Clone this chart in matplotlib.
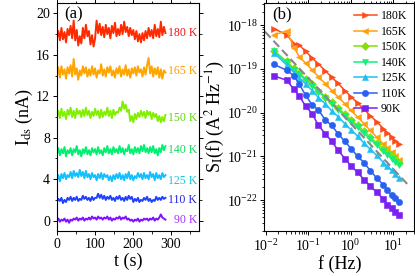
import numpy as np
import matplotlib
matplotlib.use("Agg")
import matplotlib.pyplot as plt
from matplotlib.ticker import MultipleLocator, LogLocator, NullFormatter

plt.rcParams['font.family'] = ['Liberation Serif', 'DejaVu Serif']
plt.rcParams['mathtext.fontset'] = 'stix'

# --- panel (a): current traces (nA) ---
temps = ['180 K', '165 K', '150 K', '140 K', '125 K', '110 K', '90 K']
trace_colors = ['#ff2a00', '#ffa500', '#80f000', '#00f070', '#10c0ff', '#2040ff', '#8010ff']
label_colors = ['#f01010', '#ff9a00', '#60d800', '#10d860', '#10c8d8', '#2020e0', '#a030ff']
label_y = [18.1, 14.4, 9.9, 6.8, 3.85, 1.95, 0.03]

i180 = [17.6, 18.3, 17.4, 18.6, 17.5, 18.2, 17.2, 18.5, 17.9, 18.8, 17.6, 19.3, 17.4, 18.4, 16.9, 17.8,
        17.1, 18.6, 17.6, 18.9, 17.8, 18.3, 17.0, 17.9, 16.8, 17.6, 19.3, 18.1, 19.0, 17.9, 18.7, 17.7,
        18.9, 18.0, 18.6, 17.6, 18.8, 18.1, 19.1, 17.8, 18.5, 17.9, 18.9, 18.0, 19.2, 18.2, 18.7, 17.8,
        18.6, 17.9, 18.4, 17.5, 18.3, 17.3, 18.0, 17.2, 18.1, 17.4, 18.3, 17.6, 18.6, 17.8, 18.4, 17.6,
        18.9, 17.8, 18.5, 17.7, 19.2, 17.9, 18.7, 18.1]
i165 = [14.0, 14.8, 13.8, 14.9, 14.1, 14.6, 13.7, 14.8, 14.2, 15.0, 13.9, 15.6, 14.1, 14.7, 13.6, 14.5,
        14.0, 14.9, 14.2, 14.8, 13.9, 14.6, 14.0, 14.9, 14.1, 14.7, 13.8, 14.5, 14.2, 15.1, 14.0, 14.6,
        13.9, 14.8, 14.3, 14.9, 14.0, 14.5, 13.8, 14.7, 14.2, 14.9, 13.9, 14.6, 14.1, 15.0, 14.0, 14.6,
        13.8, 14.7, 14.2, 14.8, 14.0, 14.9, 14.3, 14.6, 13.9, 14.8, 14.1, 15.0, 15.7, 14.2, 14.9, 13.9,
        14.7, 14.1, 14.8, 13.8, 14.6, 13.7, 14.5, 14.3]
i150 = [10.0, 10.6, 9.9, 10.8, 10.1, 10.5, 9.8, 10.7, 10.2, 10.9, 10.0, 10.6, 9.9, 10.8, 10.3, 10.6,
        10.0, 10.7, 10.1, 10.9, 10.2, 10.6, 9.9, 10.5, 10.1, 10.8, 10.2, 10.6, 9.9, 10.7, 10.0, 10.5,
        10.2, 10.9, 10.1, 10.6, 9.9, 10.7, 10.2, 10.5, 10.4, 10.9, 10.6, 11.5, 10.8, 11.2, 10.5, 10.7,
        9.6, 10.1, 9.5, 10.3, 9.8, 10.4, 10.0, 10.6, 10.1, 10.5, 9.9, 10.6, 10.2, 10.5, 9.8, 10.4,
        10.0, 10.3, 9.6, 10.1, 9.5, 10.0, 9.6, 10.2]
i140 = [6.4, 7.0, 6.3, 6.9, 6.5, 7.1, 6.2, 6.8, 6.5, 7.0, 6.3, 6.9, 6.6, 7.2, 6.4, 6.8,
        6.2, 6.9, 6.5, 7.1, 6.4, 6.8, 6.3, 7.0, 6.6, 6.9, 6.4, 7.1, 6.5, 6.8, 6.3, 7.0,
        6.6, 7.2, 6.5, 6.9, 6.4, 7.1, 6.6, 6.9, 6.5, 7.2, 6.6, 7.0, 6.4, 6.9, 6.7, 7.3,
        6.5, 6.9, 6.4, 7.1, 6.6, 7.0, 6.5, 7.2, 6.7, 7.3, 6.6, 7.0, 6.5, 7.1, 6.6, 7.2,
        6.5, 6.9, 6.3, 7.0, 6.6, 7.3, 6.8, 7.2]
i125 = [3.9, 4.4, 3.8, 4.5, 4.1, 4.6, 4.0, 4.4, 4.2, 4.7, 4.1, 4.8, 4.3, 4.6, 4.2, 4.9,
        4.3, 4.7, 4.1, 4.8, 4.2, 4.5, 4.0, 4.6, 4.2, 4.4, 3.9, 4.5, 4.1, 4.6, 4.0, 4.5,
        4.2, 4.4, 3.9, 4.3, 3.8, 4.4, 4.0, 4.5, 4.1, 4.6, 4.0, 4.4, 3.9, 4.5, 4.1, 4.7,
        4.0, 4.4, 3.9, 4.3, 4.1, 4.6, 4.2, 4.5, 4.0, 4.6, 4.1, 4.4, 4.0, 4.7, 4.2, 4.5,
        3.9, 4.6, 4.1, 4.4, 4.0, 4.6, 4.2, 4.4]
i110 = [1.8, 2.1, 1.9, 2.2, 1.7, 2.0, 1.8, 2.2, 2.0, 2.3, 1.9, 2.2, 2.0, 2.3, 1.9, 2.1,
        2.0, 2.4, 2.1, 2.3, 2.0, 2.2, 1.9, 2.3, 2.0, 2.2, 2.2, 2.6, 2.2, 2.5, 2.1, 2.4,
        2.0, 2.3, 2.1, 2.4, 2.0, 2.2, 1.9, 2.3, 2.1, 2.4, 2.0, 2.2, 1.9, 2.3, 2.0, 2.4,
        2.1, 2.3, 1.8, 2.1, 1.9, 2.2, 1.8, 2.0, 1.9, 2.2, 2.0, 2.3, 1.9, 2.1, 1.8, 2.0,
        1.9, 2.3, 2.0, 2.2, 2.0, 2.3, 2.1, 2.2]
i90 = [0.0, 0.2, -0.1, 0.1, 0.0, 0.2, -0.1, 0.1, -0.2, 0.1, 0.0, 0.2, 0.1, 0.3, 0.0, 0.2,
       0.1, 0.3, 0.0, 0.2, 0.1, 0.3, 0.1, 0.4, 0.2, 0.3, 0.1, 0.4, 0.2, 0.3, 0.1, 0.3,
       0.2, 0.4, 0.1, 0.3, 0.0, 0.2, 0.1, 0.3, 0.2, 0.4, 0.1, 0.3, 0.2, 0.4, 0.1, 0.2,
       0.0, 0.1, -0.1, 0.1, 0.0, 0.2, -0.1, 0.1, 0.0, 0.2, 0.1, 0.2, 0.0, 0.2, 0.1, 0.3,
       0.0, 0.2, 0.1, 0.3, 0.6, 0.3, 0.2, 0.1]
traces = [i180, i165, i150, i140, i125, i110, i90]

# --- panel (b): noise spectra ---
freq = [0.0158, 0.0309, 0.0468, 0.0617, 0.0871, 0.123, 0.174, 0.251, 0.355, 0.501, 0.724,
        1.02, 1.45, 2.04, 2.88, 4.07, 5.89, 7.24, 9.12, 11.0, 13.5]
s180 = [8.3e-19, 6.0e-19, 3.8e-19, 3.5e-19, 2.5e-19, 1.8e-19, 1.29e-19, 9.1e-20, 6.5e-20, 4.7e-20, 3.2e-20,
        2.3e-20, 1.66e-20, 1.2e-20, 8.5e-21, 6.2e-21, 4.3e-21, 3.5e-21, 2.8e-21, 2.3e-21, 1.9e-21]
s165 = [6.0e-19, 7.4e-19, 3.0e-19, 1.9e-19, 1.35e-19, 9.5e-20, 6.6e-20, 4.6e-20, 3.2e-20, 2.3e-20, 1.6e-20,
        1.12e-20, 7.9e-21, 5.6e-21, 3.9e-21, 2.75e-21, 1.9e-21, 1.55e-21, 1.23e-21, 1.02e-21, 8.1e-22]
s150 = [2.6e-19, 1.48e-19, 1.02e-19, 7.9e-20, 5.9e-20, 4.4e-20, 3.2e-20, 2.3e-20, 1.74e-20, 1.29e-20, 9.3e-21,
        6.9e-21, 5.1e-21, 3.8e-21, 2.75e-21, 2.0e-21, 1.5e-21, 1.23e-21, 1.02e-21, 8.7e-22, 7.2e-22]
s140 = [2.5e-19, 1.4e-19, 9.5e-20, 7.6e-20, 5.5e-20, 4.1e-20, 3.0e-20, 2.2e-20, 1.6e-20, 1.17e-20, 8.5e-21,
        6.2e-21, 4.6e-21, 3.4e-21, 2.5e-21, 1.8e-21, 1.3e-21, 1.1e-21, 8.9e-22, 7.6e-22, 6.3e-22]
s125 = [2.3e-19, 1.23e-19, 8.1e-20, 6.2e-20, 4.5e-20, 3.2e-20, 2.2e-20, 1.6e-20, 1.1e-20, 8.1e-21, 5.6e-21,
        4.0e-21, 2.9e-21, 2.0e-21, 1.45e-21, 1.05e-21, 7.2e-22, 5.9e-22, 4.8e-22, 4.0e-22, 3.2e-22]
s110 = [1.26e-19, 9.3e-20, 6.9e-20, 4.4e-20, 2.5e-20, 1.5e-20, 1.15e-20, 6.8e-21, 5.1e-21, 3.3e-21, 2.2e-21,
        1.5e-21, 1.0e-21, 7.2e-22, 4.7e-22, 3.2e-22, 2.2e-22, 1.7e-22, 1.3e-22, 1.1e-22, 8.9e-23]
s90 = [6.9e-20, 5.5e-20, 3.4e-20, 2.4e-20, 1.4e-20, 9.5e-21, 5.1e-21, 3.3e-21, 2.2e-21, 1.4e-21, 8.9e-22,
       6.0e-22, 4.3e-22, 2.95e-22, 2.1e-22, 1.5e-22, 1.05e-22, 7.9e-23, 6.5e-23, 5.4e-23, 4.6e-23]
spectra = [s180, s165, s150, s140, s125, s110, s90]
spec_labels = ['180K', '165K', '150K', '140K', '125K', '110K', '90K']
spec_colors = ['#ff4a1a', '#ffa010', '#88e000', '#10f080', '#20c0f0', '#2a60f0', '#7a20f0']
markers = ['>', '<', 'D', 'v', '^', 'o', 's']
# guide line ~ 1/f
guide_f = [0.0096, 22.5]
guide_s = [7.1e-19, 2.2e-22]

fig = plt.figure(figsize=(4.15, 2.76), dpi=100)
ax1 = fig.add_axes([0.137, 0.163, 0.343, 0.826])
ax2 = fig.add_axes([0.637, 0.163, 0.361, 0.826])

for ax in (ax1, ax2):
    ax.tick_params(which='both', direction='out', top=True, right=True, labelsize=10, pad=2)
    ax.tick_params(which='major', length=3, width=0.7)
    ax.tick_params(which='minor', length=1.8, width=0.6)
    for sp in ax.spines.values():
        sp.set_linewidth(0.8)

for vals, c in zip(traces, trace_colors):
    t = np.linspace(0, 286, len(vals))
    ax1.plot(t, vals, color=c, lw=1.4)
for lab, y, c in zip(temps, label_y, label_colors):
    ax1.text(369, y, lab, color=c, fontsize=8.5, ha='right', va='center')

ax1.set_xlim(0, 375)
ax1.set_ylim(-1, 21)
ax1.xaxis.set_major_locator(MultipleLocator(100))
ax1.xaxis.set_minor_locator(MultipleLocator(50))
ax1.yaxis.set_major_locator(MultipleLocator(4))
ax1.yaxis.set_minor_locator(MultipleLocator(2))
ax1.set_xlabel('t (s)', fontsize=13, labelpad=1)
ax1.set_ylabel(r'I$_{\rm ds}$ (nA)', fontsize=13, labelpad=1)
ax1.text(0.05, 0.985, '(a)', transform=ax1.transAxes, fontsize=12, va='top')

for s, lab, c, m in zip(spectra, spec_labels, spec_colors, markers):
    ax2.plot(freq, s, color=c, marker=m, ms=4.5, lw=1.1, label=lab,
             markeredgewidth=0.4, markeredgecolor=c)
ax2.plot(guide_f, guide_s, color='#888888', ls=(0, (4, 2)), lw=1.5)

ax2.set_xscale('log')
ax2.set_yscale('log')
ax2.set_xlim(0.0093, 31)
ax2.set_ylim(1.96e-23, 3.2e-18)
ax2.xaxis.set_major_locator(LogLocator(base=10, numticks=10))
ax2.xaxis.set_minor_locator(LogLocator(base=10, subs=np.arange(2, 10), numticks=10))
ax2.xaxis.set_minor_formatter(NullFormatter())
ax2.yaxis.set_major_locator(LogLocator(base=10, numticks=10))
ax2.yaxis.set_minor_locator(LogLocator(base=10, subs=np.arange(2, 10), numticks=10))
ax2.yaxis.set_minor_formatter(NullFormatter())
ax2.set_yticks([1e-22, 1e-21, 1e-20, 1e-19, 1e-18])
ax2.set_xlabel('f (Hz)', fontsize=13, labelpad=1)
ax2.set_ylabel(r'S$_{\rm I}$(f) (A$^2$ Hz$^{-1}$)', fontsize=13, labelpad=0)
ax2.text(0.05, 0.985, '(b)', transform=ax2.transAxes, fontsize=12, va='top')
ax2.legend(loc='upper right', frameon=False, fontsize=8.5, handlelength=2.0,
           handletextpad=0.3, labelspacing=0.3, borderaxespad=0.2)

fig.savefig('out.png', dpi=100)
